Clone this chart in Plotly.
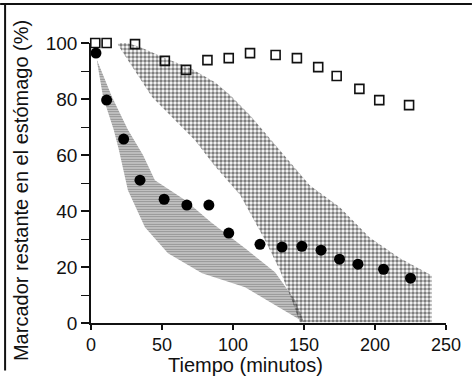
import plotly.graph_objects as go

# open squares
sq_x = [3, 11, 22, 31, 52, 67, 82, 97, 112, 130, 145, 160, 173, 189, 203, 224]
sq_y = [100, 100, 100.4, 99.6, 93.6, 90.4, 93.9, 94.6, 96.4, 95.7, 94.6, 91.4, 88.2, 83.6, 79.6, 77.8]
# filled circles
ci_x = [3.5, 11, 23, 34.5, 51.5, 67.5, 83, 97, 119, 134.5, 148.5, 162, 175, 188, 206, 225]
ci_y = [96.4, 79.6, 65.7, 51, 44.2, 42.1, 42.1, 32.1, 28.1, 27.1, 27.4, 26, 22.8, 21, 19.2, 16]

# stippled band
dot_up_x = [19, 34.5, 52, 69.7, 87.3, 97.9, 112, 133, 154, 175, 196, 217.6, 240]
dot_up_y = [101, 98.6, 94.6, 91.1, 86, 81.4, 74.2, 61.7, 49.2, 41.4, 30.6, 23.1, 17]
dot_lo_x = [19, 43, 73.2, 86.6, 105, 122.5, 133, 141.5, 147, 240]
dot_lo_y = [99.3, 80.7, 65.3, 56.4, 45.7, 29.6, 18.8, 8.1, 0.3, 0.3]

# hatched band
hat_up_x = [4.2, 14.8, 26, 36.6, 45, 66.2, 84.5, 108.5, 129.6, 143.7, 150]
hat_up_y = [93.9, 80.7, 69, 60, 51, 43.9, 36, 26.7, 18.1, 8.1, 0.3]
hat_lo_x = [4.2, 8.5, 16, 19.7, 26, 38, 54.2, 78.2, 108.5, 129.6, 150]
hat_lo_y = [93.5, 80.7, 69, 61.7, 47.4, 34.2, 24.9, 17.8, 12.8, 6.3, 0.3]

x_ticks = [0, 50, 100, 150, 200, 250]
y_ticks = [0, 20, 40, 60, 80, 100]

FONT = "Liberation Sans, Arial, sans-serif"

fig = go.Figure()

fig.add_trace(go.Scatter(
    x=hat_up_x + hat_lo_x[::-1], y=hat_up_y + hat_lo_y[::-1],
    mode="lines", line=dict(width=0), fill="toself",
    fillcolor="rgba(0,0,0,0)",
    fillpattern=dict(shape="-", size=2.5, solidity=0.7, fgcolor="#1a1a1a",
                     bgcolor="rgba(255,255,255,0)"),
    hoverinfo="skip", showlegend=False))

fig.add_trace(go.Scatter(
    x=dot_up_x + dot_lo_x[::-1], y=dot_up_y + dot_lo_y[::-1],
    mode="lines", line=dict(width=0), fill="toself",
    fillcolor="rgba(0,0,0,0)",
    fillpattern=dict(shape=".", size=4, solidity=0.6, fgcolor="#000",
                     bgcolor="rgba(255,255,255,0)"),
    hoverinfo="skip", showlegend=False))

fig.add_trace(go.Scatter(
    x=sq_x, y=sq_y, mode="markers",
    marker=dict(symbol="square-open", size=9, color="#111", line=dict(width=1.6)),
    cliponaxis=False, showlegend=False, hoverinfo="skip"))

fig.add_trace(go.Scatter(
    x=ci_x, y=ci_y, mode="markers",
    marker=dict(symbol="circle", size=11, color="#000"),
    cliponaxis=False, showlegend=False, hoverinfo="skip"))

# frame lines of the scanned figure (top and left)
fig.add_shape(type="line", xref="paper", yref="paper",
              x0=-0.256, x1=1.073, y0=1.139, y1=1.139,
              line=dict(color="#111", width=2))
fig.add_shape(type="line", xref="paper", yref="paper",
              x0=-0.242, x1=-0.242, y0=1.139, y1=-0.17,
              line=dict(color="#111", width=2))

fig.add_annotation(text="Tiempo (minutos)", xref="paper", yref="paper",
                   x=0.434, y=-0.102, xanchor="center", yanchor="top",
                   showarrow=False, font=dict(size=20, family=FONT, color="#111"))
fig.add_annotation(text="Marcador restante en el estómago (%)", xref="paper", yref="paper",
                   x=-0.195, y=0.474, xanchor="center", yanchor="middle", textangle=-90,
                   showarrow=False, font=dict(size=20, family=FONT, color="#111"))

fig.update_layout(
    width=472, height=377,
    margin=dict(l=91, r=26, t=43, b=54, autoexpand=False),
    paper_bgcolor="white", plot_bgcolor="white",
    font=dict(family=FONT, color="#111"),
    xaxis=dict(range=[0, 250], tickvals=x_ticks, ticktext=[str(v) for v in x_ticks],
               automargin=False,
               showgrid=False, zeroline=False, showline=True, linecolor="#111",
               linewidth=1.5, ticks="outside", ticklen=5, tickwidth=1.5,
               tickcolor="#111", tickfont=dict(size=18, family=FONT)),
    yaxis=dict(range=[0, 100], tickvals=y_ticks, ticktext=[str(v) for v in y_ticks],
               automargin=False,
               showgrid=False, zeroline=False, showline=True, linecolor="#111",
               linewidth=1.5, ticks="outside", ticklen=8, tickwidth=1.5,
               tickcolor="#111", tickfont=dict(size=19, family=FONT),
               minor=dict(tickvals=[10, 30, 50, 70, 90], ticks="outside",
                          ticklen=8, tickwidth=1.2, tickcolor="#111")),
)

fig.write_html("out.html", config={"displayModeBar": False},
               post_script="document.body.style.margin='0';document.body.style.overflow='hidden';")
